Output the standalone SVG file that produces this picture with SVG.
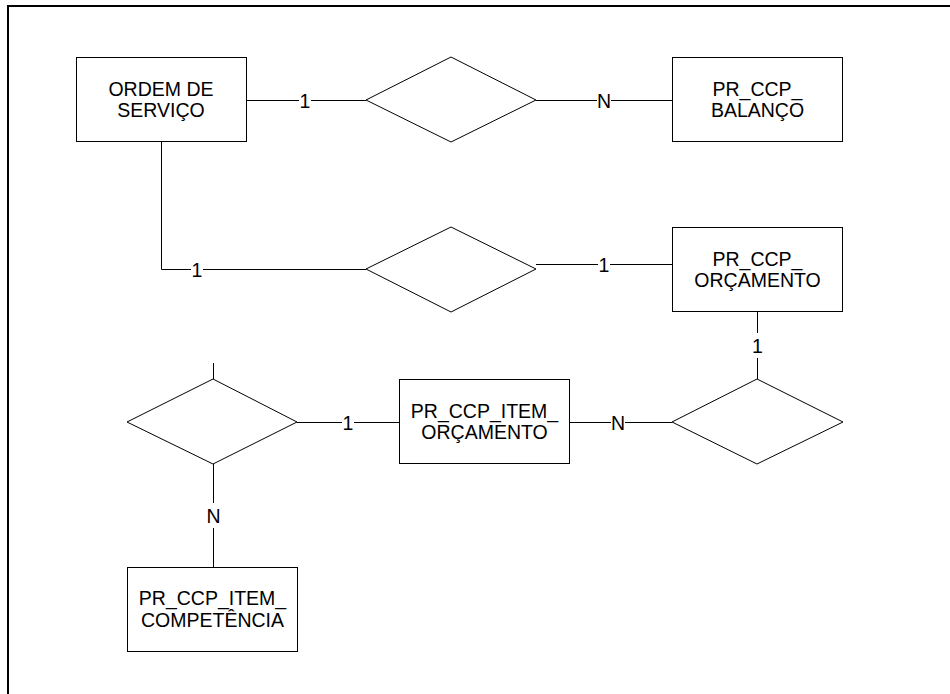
<svg xmlns="http://www.w3.org/2000/svg" width="950" height="694" viewBox="0 0 950 694">
<style>
.ent{fill:#fff;stroke:#000;stroke-width:1}
.rel{fill:#fff;stroke:#000;stroke-width:1}
.t{font-family:"Liberation Sans",Arial,sans-serif;font-size:19.5px;fill:#000;text-anchor:middle}
.c{fill:none;stroke:#000;stroke-width:1}
.lbl{font-family:"Liberation Sans",Arial,sans-serif;font-size:19.5px;fill:#000;text-anchor:middle}
</style>
<rect x="0" y="0" width="950" height="694" fill="#fff"/>
<path d="M7 6H950M8 5V694" fill="none" stroke="#000" stroke-width="2"/>
<g id="connectors">
<path class="c" d="M246 100.5H299M311 100.5H366"/>
<path class="c" d="M536 100.5H597M611 100.5H672"/>
<path class="c" d="M161.5 142V269.5H191M203 269.5H366"/>
<path class="c" d="M536 264.5H598M610 264.5H672"/>
<path class="c" d="M757.5 312V333M757.5 358V379"/>
<path class="c" d="M569 422.5H611M625 422.5H672"/>
<path class="c" d="M297 422.5H342M354 422.5H399"/>
<path class="c" d="M213.5 363V379"/>
<path class="c" d="M213.5 464V503M213.5 528V567"/>
<text class="lbl" x="305" y="107.5">1</text>
<text class="lbl" x="604" y="107.5">N</text>
<text class="lbl" x="197" y="276.5">1</text>
<text class="lbl" x="604" y="271.5">1</text>
<text class="lbl" x="757.5" y="352.5">1</text>
<text class="lbl" x="618" y="429.5">N</text>
<text class="lbl" x="348" y="429.5">1</text>
<text class="lbl" x="213.5" y="522.5">N</text>
</g>
<g id="ordem_servico">
<rect class="ent" x="76.5" y="57.5" width="170" height="84"/>
<text class="t" x="161" y="95.5">ORDEM DE</text>
<text class="t" x="161" y="116.5">SERVIÇO</text>
</g>
<g id="rel1">
<polygon class="rel" points="366,100 451,57 536,100 451,142"/>
</g>
<g id="pr_ccp_balanco">
<rect class="ent" x="672.5" y="57.5" width="170" height="84"/>
<text class="t" x="757.5" y="96">PR_CCP_</text>
<text class="t" x="757.5" y="117">BALANÇO</text>
</g>
<g id="rel2">
<polygon class="rel" points="366,269 451,227 536,269 451,312"/>
</g>
<g id="pr_ccp_orcamento">
<rect class="ent" x="672.5" y="227.5" width="170" height="84"/>
<text class="t" x="757.5" y="266">PR_CCP_</text>
<text class="t" x="757.5" y="287">ORÇAMENTO</text>
</g>
<g id="rel3">
<polygon class="rel" points="672,422 757,379 843,422 757,464"/>
</g>
<g id="pr_ccp_item_orcamento">
<rect class="ent" x="399.5" y="379.5" width="170" height="84"/>
<text class="t" x="484.5" y="418">PR_CCP_ITEM_</text>
<text class="t" x="484.5" y="439">ORÇAMENTO</text>
</g>
<g id="rel4">
<polygon class="rel" points="127,422 213,379 297,422 213,464"/>
</g>
<g id="pr_ccp_item_competencia">
<rect class="ent" x="127.5" y="567.5" width="170" height="84"/>
<text class="t" x="212.5" y="604.5">PR_CCP_ITEM_</text>
<text class="t" x="212.5" y="626.5">COMPETÊNCIA</text>
</g>
</svg>
